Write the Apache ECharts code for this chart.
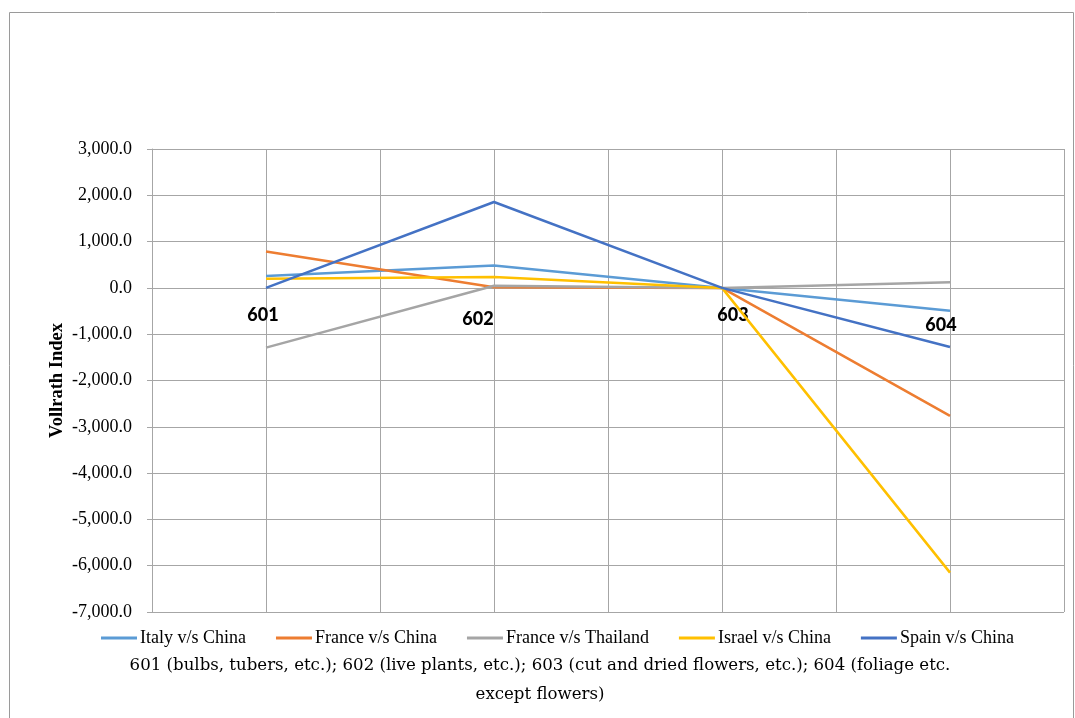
<!DOCTYPE html>
<html>
<head>
<meta charset="utf-8">
<script src="https://cdn.jsdelivr.net/npm/echarts@6/dist/echarts.min.js"></script>
<style>
html,body{margin:0;padding:0;background:#fff;}
#chart{width:1075px;height:718px;}
</style>
</head>
<body>
<div id="chart"></div>
<script>
const categories = ['601', '602', '603', '604'];
const seriesNames = ['Italy v/s China', 'France v/s China', 'France v/s Thailand', 'Israel v/s China', 'Spain v/s China'];
const italyChina = [255, 485, 0, -495];
const franceChina = [785, 15, 0, -2765];
const franceThailand = [-1290, 45, 0, 120];
const israelChina = [200, 235, 0, -6150];
const spainChina = [0, 1855, 0, -1275];
const yTicks = { min: -7000, max: 3000, interval: 1000 };
const yAxisTitle = 'Vollrath Index';
const caption = '601 (bulbs, tubers, etc.); 602 (live plants, etc.); 603 (cut and dried flowers, etc.); 604 (foliage etc.\nexcept flowers)';

const colors = ['#5B9BD5', '#ED7D31', '#A5A5A5', '#FFC000', '#4472C4'];
const values = [italyChina, franceChina, franceThailand, israelChina, spainChina];
const gridColor = '#a6a6a6';

function fmt(v) {
  const s = Math.abs(v).toFixed(1);
  const parts = s.split('.');
  parts[0] = parts[0].replace(/\B(?=(\d{3})+(?!\d))/g, ',');
  return (v < 0 ? '-' : '') + parts.join('.');
}

const chart = echarts.init(document.getElementById('chart'));
const gridTop = 149, gridBottom = 106, chartH = 718;
const plotH = chartH - gridTop - gridBottom;
// offset that moves the category axis from the bottom edge up to the value 0
const zeroOffset = -plotH * (0 - yTicks.min) / (yTicks.max - yTicks.min);
const labelStyle = { fontFamily: 'Lato', fontWeight: 900, fontSize: 18, color: '#000' };
chart.setOption({
  animation: false,
  backgroundColor: '#fff',
  color: colors,
  title: {
    text: caption,
    left: 535,
    top: 646,
    textAlign: 'center',
    textStyle: { fontFamily: 'DejaVu Serif', fontWeight: 'normal', fontSize: 16.6, lineHeight: 29, color: '#000' }
  },
  graphic: [{
    type: 'rect',
    shape: { x: 9.5, y: 12.5, width: 1064, height: 720 },
    style: { fill: null, stroke: '#9a9a9a', lineWidth: 1 },
    silent: true
  }],
  legend: {
    left: 96,
    top: 624,
    icon: 'rect',
    itemWidth: 36,
    itemHeight: 3,
    itemGap: 30,
    textStyle: { fontFamily: 'Liberation Serif', fontSize: 18, color: '#000', padding: [0, 0, 0, -2] },
    data: seriesNames
  },
  grid: { left: 152, right: 11, top: gridTop, bottom: gridBottom, containLabel: false },
  xAxis: [{
    type: 'category',
    data: categories,
    boundaryGap: true,
    position: 'bottom',
    offset: zeroOffset,
    axisLine: { onZero: false, lineStyle: { color: gridColor, width: 1 } },
    axisTick: { show: false },
    splitLine: { show: false },
    axisLabel: {
      margin: 18,
      formatter: function (v, i) { return '{l' + i + '|' + v + '}'; },
      rich: {
        l0: Object.assign({ padding: [0, 6, 0, 0] }, labelStyle),
        l1: Object.assign({ padding: [4, 32, 0, 0] }, labelStyle),
        l2: Object.assign({ padding: [0, 0, 0, 22] }, labelStyle),
        l3: Object.assign({ padding: [10, 18, 0, 0] }, labelStyle)
      }
    }
  }, {
    type: 'value',
    min: 0, max: 8, interval: 1,
    position: 'top',
    axisLine: { show: false, onZero: false },
    axisTick: { show: false },
    axisLabel: { show: false },
    splitLine: { show: true, lineStyle: { color: gridColor, width: 1 } }
  }],
  yAxis: {
    type: 'value',
    min: yTicks.min, max: yTicks.max, interval: yTicks.interval,
    name: yAxisTitle,
    nameLocation: 'middle',
    nameGap: 85,
    nameMoveOverlap: false,
    nameRotate: 90,
    nameTextStyle: { fontFamily: 'Liberation Serif', fontWeight: 'bold', fontSize: 18.5, color: '#000' },
    axisLine: { show: true, onZero: false, lineStyle: { color: gridColor } },
    axisTick: { show: true, length: 5, lineStyle: { color: gridColor } },
    axisLabel: { margin: 20, formatter: fmt, fontFamily: 'Liberation Serif', fontSize: 18, color: '#000' },
    splitLine: { show: true, lineStyle: { color: gridColor, width: 1 } }
  },
  series: seriesNames.map(function (n, i) {
    return {
      name: n,
      type: 'line',
      xAxisIndex: 0,
      data: values[i],
      showSymbol: false,
      symbol: 'none',
      lineStyle: { width: 2.5, color: colors[i] },
      itemStyle: { color: colors[i] }
    };
  })
});
</script>
</body>
</html>
